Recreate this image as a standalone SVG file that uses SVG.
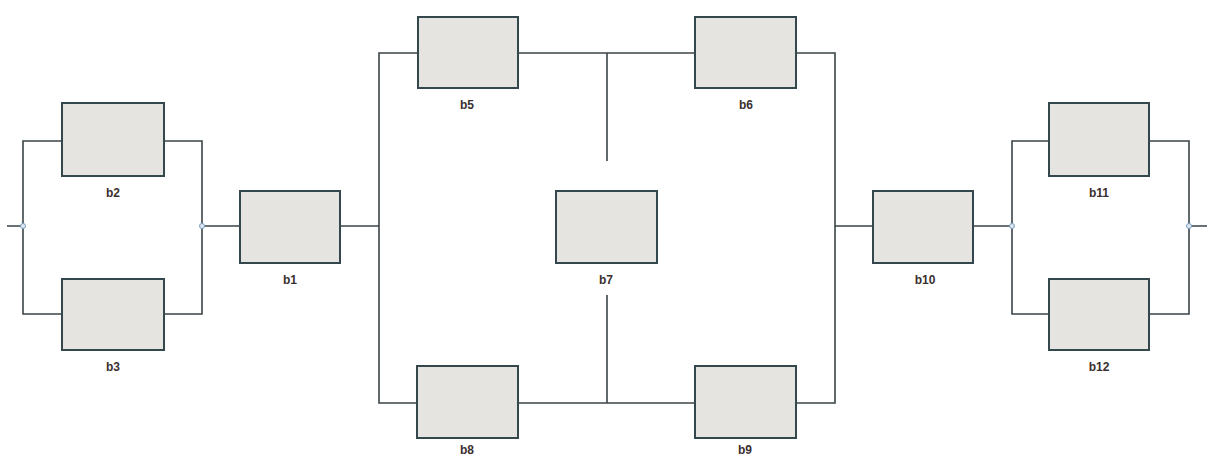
<svg xmlns="http://www.w3.org/2000/svg" width="1208" height="459" viewBox="0 0 1208 459">
  <style>
    .blk { fill: #e6e4e0; stroke: #34474d; stroke-width: 2; }
    .wire { fill: none; stroke: #3a4448; stroke-width: 1.6; }
    .lbl { font-family: "Liberation Sans", Arial, sans-serif; font-size: 12px; font-weight: bold; fill: #3a3030; text-anchor: middle; }
    .jn { fill: #dfe8f2; stroke: #7a9cc0; stroke-width: 1; }
  </style>
  <rect width="1208" height="459" fill="#ffffff"/>

  <g id="connectors">
    <!-- input parallel pair b2 / b3 -->
    <path class="wire" d="M7,226 H23 M61,141 H23 V314 H61 M164,141 H202 V314 H164 M202,226 H240"/>
    <!-- b1 to central bridge -->
    <path class="wire" d="M339,226 H379"/>
    <!-- central bridge network -->
    <path class="wire" d="M418,53 H379 V403 H418 M518,53 H695 M796,53 H835 V403 H796 M518,403 H695"/>
    <path class="wire" d="M607,53 V161 M607,295 V403"/>
    <!-- bridge to b10 -->
    <path class="wire" d="M835,226 H873 M973,226 H1012"/>
    <!-- output parallel pair b11 / b12 -->
    <path class="wire" d="M1049,141 H1012 V314 H1049 M1149,141 H1189 V314 H1149 M1189,226 H1207"/>
  </g>

  <g id="junctions">
    <circle class="jn" cx="23" cy="226" r="2.5"/>
    <circle class="jn" cx="202" cy="226" r="2.5"/>
    <circle class="jn" cx="1012" cy="226" r="2.5"/>
    <circle class="jn" cx="1189" cy="226" r="2.5"/>
  </g>

  <g id="b2"><rect class="blk" x="62" y="103" width="102" height="73"/><text class="lbl" x="113" y="197">b2</text></g>
  <g id="b3"><rect class="blk" x="62" y="279" width="102" height="71"/><text class="lbl" x="113" y="371">b3</text></g>
  <g id="b1"><rect class="blk" x="240" y="191" width="100" height="72"/><text class="lbl" x="290" y="284">b1</text></g>
  <g id="b5"><rect class="blk" x="418" y="17" width="100" height="71"/><text class="lbl" x="467" y="109">b5</text></g>
  <g id="b6"><rect class="blk" x="695" y="17" width="101" height="71"/><text class="lbl" x="746" y="109">b6</text></g>
  <g id="b7"><rect class="blk" x="556" y="191" width="101" height="72"/><text class="lbl" x="606" y="284">b7</text></g>
  <g id="b8"><rect class="blk" x="417" y="366" width="101" height="72"/><text class="lbl" x="467" y="454">b8</text></g>
  <g id="b9"><rect class="blk" x="695" y="366" width="101" height="72"/><text class="lbl" x="745" y="454">b9</text></g>
  <g id="b10"><rect class="blk" x="873" y="191" width="100" height="72"/><text class="lbl" x="925" y="284">b10</text></g>
  <g id="b11"><rect class="blk" x="1049" y="103" width="100" height="73"/><text class="lbl" x="1099" y="197">b11</text></g>
  <g id="b12"><rect class="blk" x="1049" y="279" width="100" height="71"/><text class="lbl" x="1099" y="371">b12</text></g>
</svg>
